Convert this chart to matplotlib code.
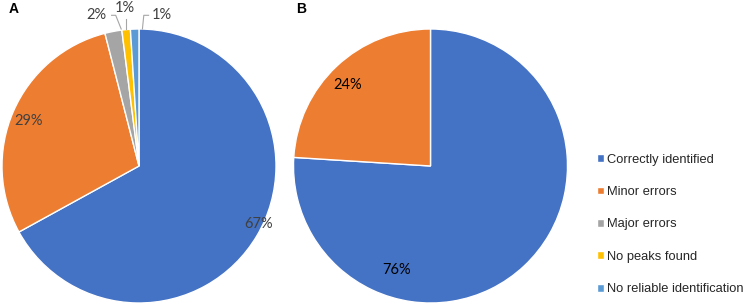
import numpy as np
import matplotlib.pyplot as plt

categories = ['Correctly identified', 'Minor errors', 'Major errors',
              'No peaks found', 'No reliable identification']
values_a = [67, 29, 2, 1, 1]
values_b = [76, 24]
colors = ['#4472C4', '#ED7D31', '#A5A5A5', '#FFC000', '#5B9BD5']

W, H = 746, 304
fig = plt.figure(figsize=(W / 100, H / 100), dpi=100)


def px_axes(x0, y0, x1, y1):
    # pixel box (top-left origin) -> figure axes
    return fig.add_axes([x0 / W, 1 - y1 / H, (x1 - x0) / W, (y1 - y0) / H])


lbl_font = dict(family=['Lato', 'DejaVu Sans'], fontsize=10.5, color='#404040')

# --- pie A
ax1 = px_axes(2, 29, 276, 303)
wa, _ = ax1.pie(values_a, colors=colors, startangle=90, counterclock=False,
                wedgeprops=dict(edgecolor='white', linewidth=1))
ax1.set_aspect('equal')
ax1.set_xlim(-1, 1)
ax1.set_ylim(-1, 1)

# inside labels (angle deg, radius)
ax1.text(np.cos(np.radians(-26)) * 0.97, np.sin(np.radians(-26)) * 0.97,
         f'{values_a[0]}%', ha='center', va='center', **lbl_font)
ax1.text(np.cos(np.radians(158)) * 0.87, np.sin(np.radians(158)) * 0.87,
         f'{values_a[1]}%', ha='center', va='center', **lbl_font)

# outside labels with leader lines for the thin slices
outside = [  # (slice index, text xy, line points)
    (2, (-0.31, 1.10), [(-0.20, 1.10), (-0.17, 1.10), (-0.13, 1.00)]),
    (3, (-0.10, 1.15), [(-0.095, 1.07), (-0.095, 1.00)]),
    (4, (0.17, 1.10), [(0.07, 1.10), (0.035, 1.10), (0.025, 1.00)]),
]
for i, (tx, ty), pts in outside:
    ax1.text(tx, ty, f'{values_a[i]}%', ha='center', va='center',
             clip_on=False, **lbl_font)
    xs, ys = zip(*pts)
    ax1.plot(xs, ys, color='#A6A6A6', lw=0.8, clip_on=False)

# --- pie B
ax2 = px_axes(293, 29, 568, 303)
wb, _ = ax2.pie(values_b, colors=colors[:2], startangle=90, counterclock=False,
                wedgeprops=dict(edgecolor='white', linewidth=1))
ax2.set_aspect('equal')
ax2.set_xlim(-1, 1)
ax2.set_ylim(-1, 1)
b_font = dict(family=['Lato', 'DejaVu Sans'], fontsize=10.5, color='black')
ax2.text(np.cos(np.radians(-108)) * 0.80, np.sin(np.radians(-108)) * 0.80,
         f'{values_b[0]}%', ha='center', va='center', **b_font)
ax2.text(np.cos(np.radians(135.7)) * 0.85, np.sin(np.radians(135.7)) * 0.85,
         f'{values_b[1]}%', ha='center', va='center', **b_font)

# panel letters
fig.text(9 / W, 1 - 9 / H, 'A', fontsize=10, fontweight='bold',
         family='Liberation Sans', ha='left', va='center')
fig.text(296 / W, 1 - 9 / H, 'B', fontsize=10, fontweight='bold',
         family='Liberation Sans', ha='left', va='center')

leg = fig.legend(wa, categories, loc='upper left',
                 bbox_to_anchor=(585 / W, 1 - 142 / H), frameon=False,
                 handlelength=0.55, handleheight=0.55, handletextpad=0.25,
                 labelspacing=1.58,
                 prop=dict(family='Liberation Sans', size=9.3))
for t in leg.get_texts():
    t.set_color('#262626')

fig.savefig('out.png', dpi=100)
